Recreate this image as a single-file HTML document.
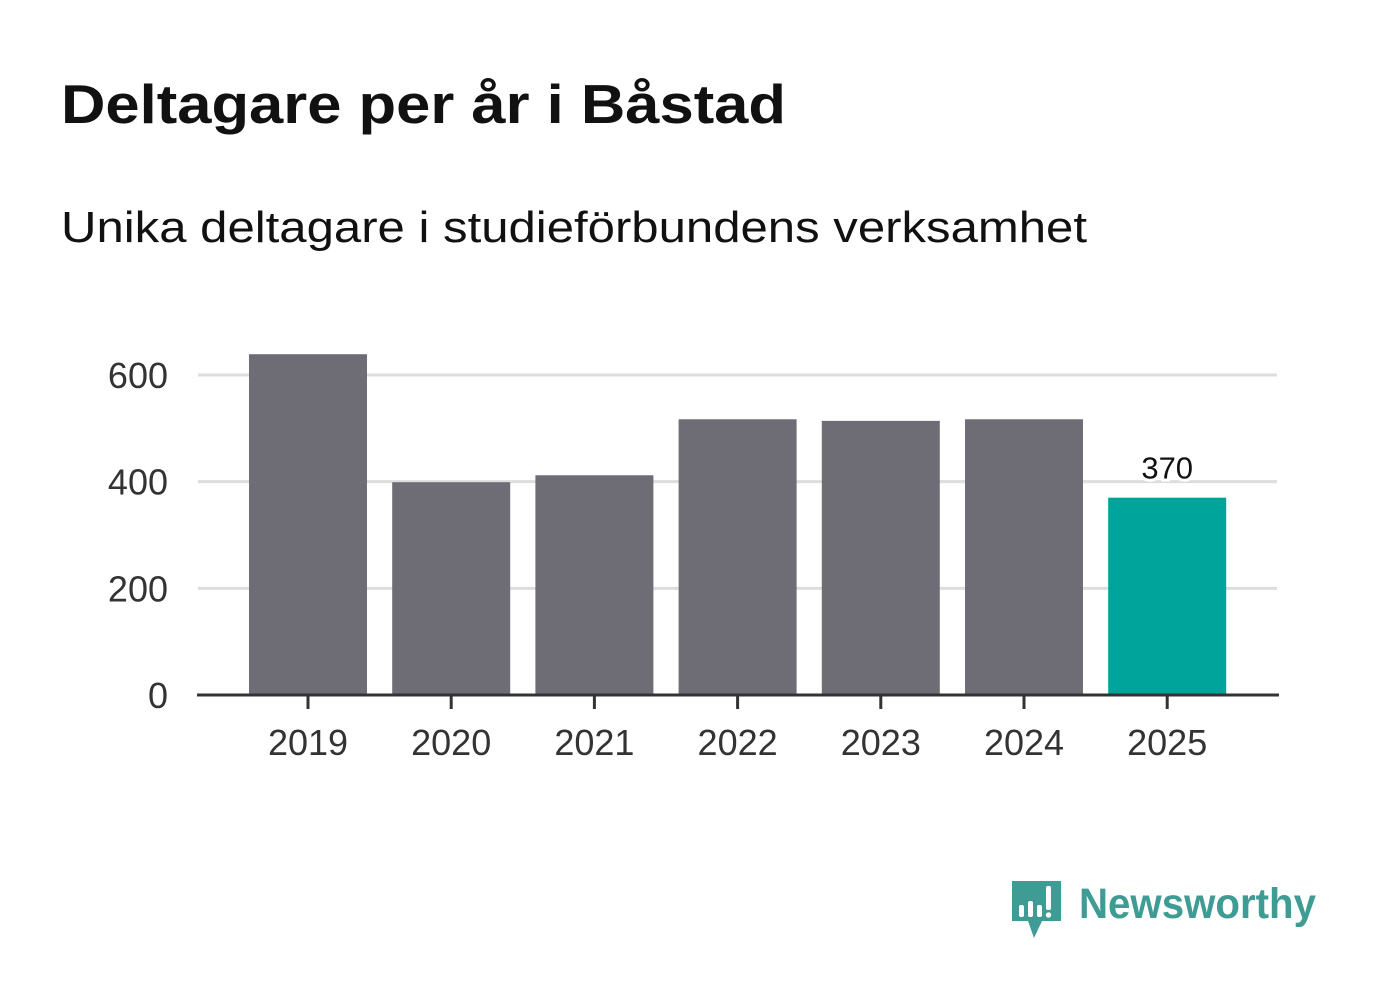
<!DOCTYPE html>
<html><head><meta charset="utf-8"><style>
body{margin:0;background:#fff;width:1382px;height:999px;overflow:hidden;font-family:"Liberation Sans",sans-serif}
</style></head><body>
<svg width="1382" height="999" font-family="'Liberation Sans', sans-serif">
<text x="61" y="123" font-size="55" font-weight="bold" fill="#111" textLength="725" lengthAdjust="spacingAndGlyphs">Deltagare per år i Båstad</text>
<text x="61" y="242" font-size="44" fill="#111" textLength="1026" lengthAdjust="spacingAndGlyphs">Unika deltagare i studieförbundens verksamhet</text>
<g id="grid"></g><g id="bars"></g><g id="axis"></g>
<g>
<path d="M1012 881h49v40h-19l-8 17-6-17h-16z" fill="#3e9c94"/>
<rect x="1019" y="905" width="5" height="12" rx="2" fill="#fff"/>
<rect x="1028" y="901" width="5" height="16" rx="2" fill="#fff"/>
<rect x="1037" y="905" width="5" height="12" rx="2" fill="#fff"/>
<rect x="1046" y="886" width="5" height="24" rx="2" fill="#fff"/>
<circle cx="1048.5" cy="915" r="2.7" fill="#fff"/>
<text x="1079" y="918" font-size="43" font-weight="bold" fill="#3e9c94" textLength="237" lengthAdjust="spacingAndGlyphs">Newsworthy</text>
</g>
</svg>
<script>
const categories=["2019","2020","2021","2022","2023","2024","2025"];
const values=[639,399,412,517,514,517,370];
const yTicks=[0,200,400,600];
const NS="http://www.w3.org/2000/svg";
const y=v=>695-v*(320/600);
const step=143.2, bw=118;
const xc=i=>308+i*step;
function mk(t,a,p){const e=document.createElementNS(NS,t);for(const k in a)e.setAttribute(k,a[k]);p.appendChild(e);return e;}
const grid=document.getElementById('grid'),bars=document.getElementById('bars'),axis=document.getElementById('axis');
yTicks.forEach(v=>{
 if(v>0){const l=mk('line',{x1:198,x2:1277,y1:y(v),y2:y(v),stroke:'#dddddd','stroke-width':3},grid);
 
 }
 const t=mk('text',{x:168,y:y(v)+13,'font-size':36,fill:'#333','text-anchor':'end'},axis);t.textContent=v;
 
 
});
values.forEach((v,i)=>{
 const last=i===values.length-1;
 const r=mk('rect',{x:xc(i)-bw/2,y:y(v),width:bw,height:695-y(v),fill:last?'#00a49a':'#6e6d75'},bars);
 
 
 const tk=mk('line',{x1:xc(i),x2:xc(i),y1:695,y2:709,stroke:'#333','stroke-width':3},axis);
 
 
 const t=mk('text',{x:xc(i),y:755,'font-size':36,fill:'#333','text-anchor':'middle'},axis);t.textContent=categories[i];
 
 
 if(last){const lb=mk('text',{x:xc(i),y:y(v)-19,'font-size':31,fill:'#111','text-anchor':'middle',stroke:'#fff','stroke-width':6,'paint-order':'stroke'},bars);lb.textContent=v;
 
 }
});
const base=mk('line',{x1:197,x2:1279,y1:695,y2:695,stroke:'#333','stroke-width':3},axis);


</script>
</body></html>
